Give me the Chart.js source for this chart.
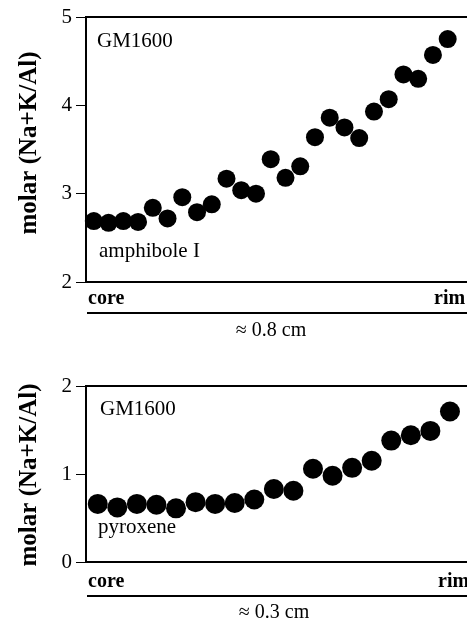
<!DOCTYPE html>
<html lang="en">
<head>
    <meta charset="UTF-8">
    <title>GM1600 zoning profiles</title>
    <style>
        body { margin: 0; background: #fff; }
        .panel { position: absolute; left: 0; }
    </style>
</head>
<body>
<div class="panel" style="top: 0;"><canvas id="amphibole" width="467" height="345"></canvas></div>
<div class="panel" style="top: 345px;"><canvas id="pyroxene" width="467" height="276"></canvas></div>

<script src="https://cdn.jsdelivr.net/npm/chart.js@4.4.1/dist/chart.umd.min.js"></script>
<script>
    // molar (Na+K)/Al, core -> rim
    const amphiboleValues = [2.69, 2.67, 2.69, 2.68, 2.84, 2.72, 2.96, 2.79, 2.88, 3.17, 3.04, 3.00, 3.39,
        3.18, 3.31, 3.64, 3.86, 3.75, 3.63, 3.93, 4.07, 4.35, 4.30, 4.57, 4.75];
    const pyroxeneValues = [0.66, 0.62, 0.66, 0.65, 0.61, 0.68, 0.66, 0.67, 0.71, 0.83, 0.81, 1.06, 0.98,
        1.07, 1.15, 1.38, 1.44, 1.49, 1.71];

    const amphiboleTicks = [2, 3, 4, 5];
    const pyroxeneTicks = [0, 1, 2];

    const sampleName = 'GM1600';
    const yTitle = 'molar (Na+K/Al)';
    const amphiboleLabel = 'amphibole I';
    const pyroxeneLabel = 'pyroxene';
    const amphiboleLength = '\u2248 0.8 cm';
    const pyroxeneLength = '\u2248 0.3 cm';

    const serif = '"Liberation Serif", "DejaVu Serif", serif';

    function toPoints(values) {
        return values.map((v, i) => ({ x: i, y: v }));
    }

    function panelPlugin(opts) {
        return {
            id: 'panelDecor',
            afterDraw(chart) {
                const ctx = chart.ctx;
                const a = chart.chartArea;
                ctx.save();
                ctx.strokeStyle = '#000';
                ctx.fillStyle = '#000';
                ctx.lineWidth = 2;
                ctx.beginPath();
                ctx.moveTo(chart.width + 2, a.top);
                ctx.lineTo(a.left, a.top);
                ctx.lineTo(a.left, a.bottom);
                ctx.lineTo(chart.width + 2, a.bottom);
                ctx.stroke();

                // core / rim scale bar
                ctx.font = 'bold 20px ' + serif;
                ctx.textBaseline = 'alphabetic';
                ctx.textAlign = 'left';
                ctx.fillText('core', a.left + 2, a.bottom + opts.coreDy);
                ctx.fillText('rim', opts.rimX, a.bottom + opts.coreDy);
                ctx.beginPath();
                ctx.moveTo(a.left + 1, a.bottom + opts.barDy);
                ctx.lineTo(chart.width + 2, a.bottom + opts.barDy);
                ctx.stroke();

                ctx.font = '20px ' + serif;
                ctx.textAlign = 'center';
                ctx.fillText(opts.length, opts.lengthX, a.bottom + opts.lengthDy);

                // in-plot labels
                ctx.font = '21px ' + serif;
                ctx.textAlign = 'left';
                ctx.fillText(sampleName, opts.nameX, a.top + opts.nameDy);
                ctx.fillText(opts.label, opts.labelX, a.top + opts.labelDy);

                // y title
                ctx.font = 'bold 25px ' + serif;
                ctx.translate(36, opts.titleY);
                ctx.rotate(-Math.PI / 2);
                ctx.textAlign = 'center';
                ctx.fillText(yTitle, 0, 0);
                ctx.restore();
            }
        };
    }

    function makePanel(id, values, ticks, xMin, xMax, radius, padding, opts) {
        new Chart(document.getElementById(id), {
            type: 'scatter',
            data: {
                datasets: [{
                    data: toPoints(values),
                    pointRadius: radius,
                    pointHoverRadius: radius,
                    pointBackgroundColor: '#000',
                    pointBorderWidth: 0,
                    clip: false
                }]
            },
            options: {
                responsive: false,
                animation: false,
                devicePixelRatio: 1,
                layout: { padding: padding },
                plugins: { legend: { display: false }, tooltip: { enabled: false } },
                scales: {
                    x: { type: 'linear', min: xMin, max: xMax, display: false },
                    y: {
                        min: ticks[0],
                        max: ticks[ticks.length - 1],
                        afterBuildTicks: (scale) => { scale.ticks = ticks.map(v => ({ value: v })); },
                        afterFit: (scale) => { scale.width = 86; },
                        ticks: {
                            color: '#000',
                            padding: 4,
                            font: { family: serif, size: 21 }
                        },
                        grid: { drawOnChartArea: false, tickLength: 10, color: '#000', lineWidth: 1 },
                        border: { display: false }
                    }
                }
            },
            plugins: [panelPlugin(opts)]
        });
    }

    makePanel('amphibole', amphiboleValues, amphiboleTicks, -0.53, 24.7, 9,
        { left: 0, right: 0, top: 17, bottom: 63 },
        { coreDy: 22, rimX: 434, barDy: 31, length: amphiboleLength, lengthX: 271, lengthDy: 54,
          nameX: 97, nameDy: 30, label: amphiboleLabel, labelX: 99, labelDy: 240, titleY: 143 });

    makePanel('pyroxene', pyroxeneValues, pyroxeneTicks, -0.6, 18.36, 10,
        { left: 0, right: 0, top: 41, bottom: 59 },
        { coreDy: 25, rimX: 438, barDy: 34, length: pyroxeneLength, lengthX: 274, lengthDy: 56,
          nameX: 100, nameDy: 29, label: pyroxeneLabel, labelX: 98, labelDy: 147, titleY: 130 });
</script>
</body>
</html>
